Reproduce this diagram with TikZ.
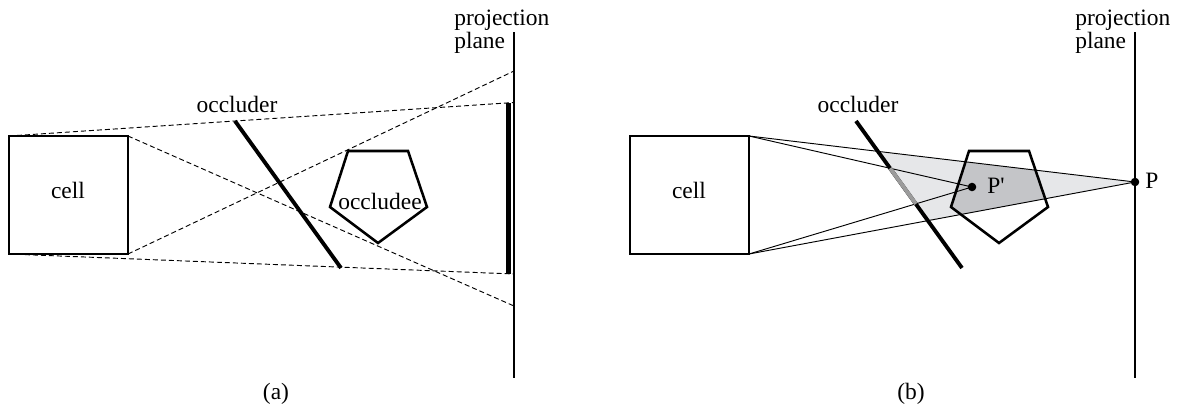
\documentclass[tikz,border=0pt]{standalone}
\usepackage{fontspec}
\setmainfont{Liberation Serif}
\begin{document}
\begin{tikzpicture}[x=0.75pt,y=-0.75pt,
  lbl/.style={font=\fontsize{17.6}{21}\selectfont, inner sep=0pt, anchor=base},
  lblw/.style={lbl, anchor=base west},
  boxline/.style={line width=1.7pt},
  occl/.style={line width=2.9pt},
  pent/.style={line width=1.9pt, line join=miter},
  planeline/.style={line width=2pt},
  ray/.style={line width=0.7pt, dash pattern=on 3.75pt off 2.25pt},
  solidray/.style={line width=0.7pt},
  pdot/.style={circle, fill=black, inner sep=0pt, minimum size=6.4pt},
  lightshade/.style={fill={rgb,255:red,230;green,231;blue,233}},
  darkshade/.style={fill={rgb,255:red,196;green,197;blue,200}},
  greyocc/.style={draw={rgb,255:red,155;green,155;blue,155}, line width=2.9pt}
]
\useasboundingbox (0,0) rectangle (1188,407);

% ================= panel (a) =================
\coordinate (aTL) at (9,136);
\coordinate (aTR) at (128,136);
\coordinate (aBR) at (128,254);
\coordinate (aBL) at (9,254);
\coordinate (aOccT) at (235,121);
\coordinate (aOccB) at (341,268);
\coordinate (aPlT) at (514,32);
\coordinate (aPlB) at (514,378);
\coordinate (aBarT) at (514,102.5);
\coordinate (aBarB) at (514,274);
\coordinate (aHitLow) at (514,306);
\coordinate (aHitHigh) at (514,71);
\coordinate (aP1) at (348,151);
\coordinate (aP2) at (408,151);
\coordinate (aP3) at (427,207);
\coordinate (aP4) at (378,243);
\coordinate (aP5) at (330,207);

\draw[ray] (aTL) -- (aBarT);
\draw[ray] (aBL) -- (aBarB);
\draw[ray] (aTR) -- (aHitLow);
\draw[ray] (aBR) -- (aHitHigh);

\draw[boxline] (aTL) rectangle (aBR);
\draw[occl] (aOccT) -- (aOccB);
\draw[pent] (aP1) -- (aP2) -- (aP3) -- (aP4) -- (aP5) -- cycle;
\fill (506,102.5) rectangle (511.2,273.5);
\draw[planeline] (aPlT) -- (aPlB);

\node[lbl] (aCell) at (68,198) {cell};
\node[lbl] (aOccLbl) at (237,112) {occluder};
\node[lbl] (aOccee) at (380,209) {occludee};
\node[lblw] (aProj1) at (454,25) {projection};
\node[lblw] (aProj2) at (454,48) {plane};
\node[lbl] (aCap) at (276,399) {(a)};

% ================= panel (b) =================
\coordinate (bTL) at (630,136);
\coordinate (bTR) at (749,136);
\coordinate (bBR) at (749,254);
\coordinate (bBL) at (630,254);
\coordinate (bOccT) at (856,121);
\coordinate (bOccB) at (962,268);
\coordinate (bPlT) at (1135,32);
\coordinate (bPlB) at (1135,378);
\coordinate (P) at (1135,182);
\coordinate (Pp) at (972,187);
\coordinate (bP1) at (969,151);
\coordinate (bP2) at (1029,151);
\coordinate (bP3) at (1048,207);
\coordinate (bP4) at (999,243);
\coordinate (bP5) at (951,207);

\coordinate (oT) at (intersection of bOccT--bOccB and bTR--P);
\coordinate (oB) at (intersection of bOccT--bOccB and bBR--P);
\coordinate (iT) at (intersection of bOccT--bOccB and bTR--Pp);
\coordinate (iB) at (intersection of bOccT--bOccB and bBR--Pp);

\fill[lightshade] (oT) -- (P) -- (oB) -- cycle;
\begin{scope}
  \clip (bTR) -- (P) -- (bBR) -- cycle;
  \fill[darkshade] (bP1) -- (bP2) -- (bP3) -- (bP4) -- (bP5) -- cycle;
\end{scope}

\draw[solidray] (bTR) -- (P);
\draw[solidray] (bBR) -- (P);
\draw[solidray] (bTR) -- (Pp);
\draw[solidray] (bBR) -- (Pp);

\draw[boxline] (bTL) rectangle (bBR);
\draw[occl] (bOccT) -- (bOccB);
\draw[greyocc] (iT) -- (iB);
\draw[pent] (bP1) -- (bP2) -- (bP3) -- (bP4) -- (bP5) -- cycle;
\draw[planeline] (bPlT) -- (bPlB);

\node[pdot] (Pdot) at (P) {};
\node[pdot] (Ppdot) at (Pp) {};

\node[lbl] (bCell) at (689,198) {cell};
\node[lbl] (bOccLbl) at (858,112) {occluder};
\node[lblw] (bProj1) at (1075,25) {projection};
\node[lblw] (bProj2) at (1075,48) {plane};
\node[lblw] (PLbl) at (1145,188) {P};
\node[lblw] (PpLbl) at (987,193) {P\textquotesingle};
\node[lbl] (bCap) at (911,399) {(b)};
\end{tikzpicture}
\end{document}
